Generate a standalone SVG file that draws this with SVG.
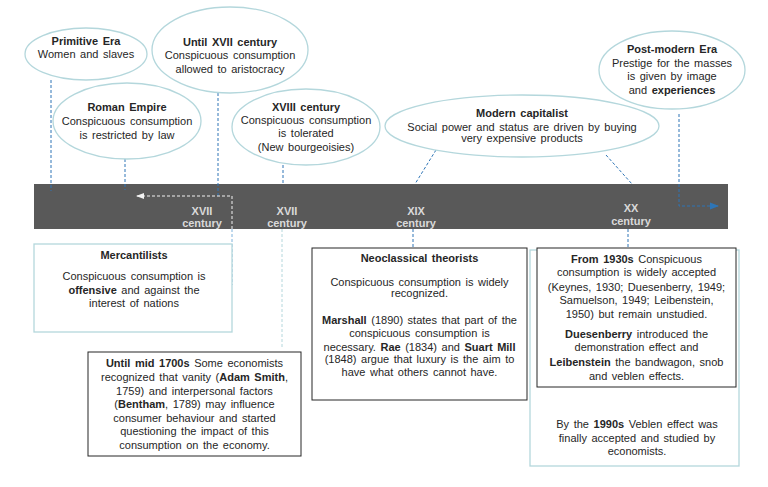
<svg xmlns="http://www.w3.org/2000/svg" width="768" height="487" viewBox="0 0 768 487">
<style>
text{font-family:"Liberation Sans",Arial,sans-serif;font-size:11px;fill:#262626;text-anchor:middle;word-spacing:1.5px}
.b{font-weight:bold}
.ell{fill:#fff;stroke:#b4d7dc;stroke-width:1.3}
.bx{fill:#fff;stroke:#262626;stroke-width:1}
.tb{fill:#fff;stroke:#b4d7dc;stroke-width:1.3}
.bar text{fill:#d9d9d9;font-weight:bold;word-spacing:0}
.dl{fill:none;stroke:#2e75b6;stroke-width:1;stroke-dasharray:3,2}
.wl{fill:none;stroke:#f2f2f2;stroke-width:1;stroke-dasharray:3,2}
.ll{fill:none;stroke:#b4d7dc;stroke-width:1;stroke-dasharray:3,2}
</style>
<defs>
<marker id="aw" markerWidth="8" markerHeight="8" refX="7" refY="4" orient="auto" markerUnits="userSpaceOnUse"><path d="M0,1 L8,4 L0,7 Z" fill="#f2f2f2"/></marker>
<marker id="ab" markerWidth="9" markerHeight="8" refX="8" refY="4" orient="auto" markerUnits="userSpaceOnUse"><path d="M0,0.5 L9,4 L0,7.5 Z" fill="#2e75b6"/></marker>
</defs>
<rect width="768" height="487" fill="#fff"/>

<g id="timeline" class="bar">
<rect x="34" y="184" width="694" height="45" fill="#595959"/>
<text x="202" y="215">XVII</text><text x="202" y="227">century</text>
<text x="287" y="215">XVII</text><text x="287" y="227">century</text>
<text x="416" y="215">XIX</text><text x="416" y="227">century</text>
<text x="631" y="212">XX</text><text x="631" y="225">century</text>
</g>

<g id="connectors">
<path class="dl" d="M51,80 V191"/>
<path class="dl" d="M125,159 V190"/>
<path class="dl" d="M218,93 V198"/>
<path class="dl" d="M283,165 V184"/>
<path class="dl" d="M436,150 L415,184"/>
<path class="dl" d="M606,155 L632,184"/>
<path class="dl" d="M413,229 V248"/>
<path class="dl" d="M628,229 V248"/>
<path class="dl" d="M679,114 V206 H718" marker-end="url(#ab)"/>
<path class="ll" d="M282,229 V348"/>
<path class="wl" d="M232,229 V196 H137" marker-end="url(#aw)"/>
<path class="dl" style="stroke:#7fb2dc" d="M232,229 V285"/>
</g>

<g id="primitive-era">
<ellipse class="ell" cx="86" cy="54" rx="61" ry="26"/>
<text class="b" x="86" y="45">Primitive Era</text>
<text x="86" y="58">Women and slaves</text>
</g>

<g id="until-xvii">
<ellipse class="ell" cx="230" cy="50" rx="78" ry="43"/>
<text class="b" x="230" y="46">Until XVII century</text>
<text x="230" y="59">Conspicuous consumption</text>
<text x="230" y="73">allowed to aristocracy</text>
</g>

<g id="roman-empire">
<ellipse class="ell" cx="127" cy="121" rx="74" ry="38"/>
<text class="b" x="127" y="111">Roman Empire</text>
<text x="127" y="125">Conspicuous consumption</text>
<text x="127" y="139">is restricted by law</text>
</g>

<g id="xviii-century">
<ellipse class="ell" cx="306" cy="127" rx="74" ry="38"/>
<text class="b" x="306" y="111">XVIII century</text>
<text x="306" y="124">Conspicuous consumption</text>
<text x="306" y="137">is tolerated</text>
<text x="306" y="151">(New bourgeoisies)</text>
</g>

<g id="modern-capitalist">
<ellipse class="ell" cx="522" cy="126" rx="137" ry="31"/>
<text class="b" x="522" y="117">Modern capitalist</text>
<text x="522" y="131">Social power and status are driven  by buying</text>
<text x="522" y="142">very expensive products</text>
</g>

<g id="post-modern-era">
<ellipse class="ell" cx="672" cy="70" rx="73" ry="39"/>
<text class="b" x="672" y="53">Post-modern Era</text>
<text x="672" y="67">Prestige for the masses</text>
<text x="672" y="80">is given  by image</text>
<text x="672" y="94">and <tspan class="b">experiences</tspan></text>
</g>

<g id="mercantilists">
<rect class="tb" x="34" y="244" width="198" height="88"/>
<text class="b" x="134" y="259">Mercantilists</text>
<text x="134" y="280">Conspicuous consumption is</text>
<text x="134" y="294"><tspan class="b">offensive</tspan> and against the</text>
<text x="134" y="307">interest of nations</text>
</g>

<g id="until-mid-1700s">
<rect class="bx" x="88" y="352" width="213" height="104"/>
<text x="194.5" y="367"><tspan class="b">Until mid 1700s</tspan> Some economists</text>
<text x="194.5" y="381">recognized that vanity (<tspan class="b">Adam Smith</tspan>,</text>
<text x="194.5" y="395">1759) and interpersonal factors</text>
<text x="194.5" y="408">(<tspan class="b">Bentham</tspan>, 1789) may influence</text>
<text x="194.5" y="422">consumer behaviour  and started</text>
<text x="194.5" y="435">questioning the impact of this</text>
<text x="194.5" y="449">consumption on the economy.</text>
</g>

<g id="neoclassical">
<rect class="bx" x="312" y="248" width="215" height="152"/>
<text class="b" x="419.5" y="262">Neoclassical theorists</text>
<text x="419.5" y="286">Conspicuous consumption is widely</text>
<text x="419.5" y="297">recognized.</text>
<text x="419.5" y="324"><tspan class="b">Marshall</tspan> (1890)  states that part of the</text>
<text x="419.5" y="337">conspicuous consumption is</text>
<text x="419.5" y="351">necessary. <tspan class="b">Rae</tspan> (1834) and <tspan class="b">Suart Mill</tspan></text>
<text x="419.5" y="363">(1848) argue that luxury is the aim to</text>
<text x="419.5" y="376">have what others cannot have.</text>
</g>

<g id="xx-century">
<rect class="tb" x="530" y="250" width="209" height="216"/>
<rect class="bx" x="537" y="248" width="199" height="139"/>
<text x="636.5" y="263"><tspan class="b">From 1930s</tspan> Conspicuous</text>
<text x="636.5" y="276">consumption is widely accepted</text>
<text x="636.5" y="291">(Keynes, 1930; Duesenberry, 1949;</text>
<text x="636.5" y="304">Samuelson, 1949; Leibenstein,</text>
<text x="636.5" y="318">1950) but remain unstudied.</text>
<text x="636.5" y="338"><tspan class="b">Duesenberry</tspan> introduced the</text>
<text x="636.5" y="351">demonstration effect and</text>
<text x="636.5" y="366"><tspan class="b">Leibenstein</tspan> the bandwagon,  snob</text>
<text x="636.5" y="380">and veblen effects.</text>
<text x="637" y="428">By the <tspan class="b">1990s</tspan> Veblen effect was</text>
<text x="637" y="442">finally accepted and studied by</text>
<text x="637" y="455">economists.</text>
</g>
</svg>
